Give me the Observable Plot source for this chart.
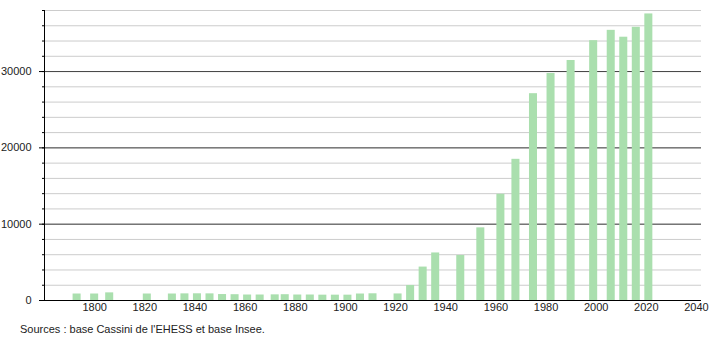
<!DOCTYPE html>
<html>
<head>
<meta charset="utf-8">
<script src="https://cdn.jsdelivr.net/npm/d3@7"></script>
<script src="https://cdn.jsdelivr.net/npm/@observablehq/plot@0.6"></script>
<style>
  body { margin: 0; background: #fff; font-family: "Liberation Sans", Arial, sans-serif; }
  #caption { font-size: 11px; line-height: 14px; margin: 2px 0 0 20px; color: #222; }
</style>
</head>
<body>
<div id="chart"></div>
<div id="caption">Sources : base Cassini de l'EHESS et base Insee.</div>
<script>
const years = [1793, 1800, 1806, 1821, 1831, 1836, 1841, 1846, 1851, 1856, 1861, 1866, 1872, 1876, 1881, 1886, 1891, 1896, 1901, 1906, 1911, 1921, 1926, 1931, 1936, 1946, 1954, 1962, 1968, 1975, 1982, 1990, 1999, 2006, 2011, 2016, 2021];
const population = [850, 850, 1000, 850, 850, 870, 880, 870, 780, 760, 720, 720, 740, 760, 720, 720, 700, 700, 700, 850, 880, 860, 1970, 4380, 6230, 5900, 9520, 13920, 18500, 27100, 29750, 31450, 34050, 35400, 34500, 35800, 37550];
const xTicks = [1800, 1820, 1840, 1860, 1880, 1900, 1920, 1940, 1960, 1980, 2000, 2020, 2040];
const yMajorTicks = [0, 10000, 20000, 30000];
const yMinorTicks = d3.range(0, 38001, 2000);

const data = years.map((y, i) => ({year: y, pop: population[i]}));
const halfWidth = 1.6;

const chart = Plot.plot({
  width: 710,
  height: 320,
  marginTop: 10,
  marginBottom: 20,
  marginLeft: 44,
  marginRight: 9,
  style: {fontFamily: "'Liberation Sans', Arial, sans-serif", fontSize: "11px", color: "#222", background: "#fff"},
  x: {domain: [1780, 2042]},
  y: {domain: [0, 38000]},
  marks: [
    Plot.ruleY(yMinorTicks.filter(v => v > 0), {stroke: "#cccccc", strokeWidth: 1}),
    Plot.ruleY(yMajorTicks.filter(v => v > 0), {stroke: "#444444", strokeWidth: 1}),
    Plot.rectY(data, {x1: d => d.year - halfWidth, x2: d => d.year + halfWidth, y: "pop", fill: "#aadfae"}),
    Plot.ruleY([0], {stroke: "#000", strokeWidth: 1}),
    Plot.ruleX([1780], {stroke: "#000", strokeWidth: 1}),
    Plot.axisY({ticks: yMinorTicks, tickSize: 2, tickFormat: null, text: null, label: null, stroke: "#000"}),
    Plot.axisY({ticks: yMajorTicks, tickSize: 5, tickPadding: 8, tickFormat: d => String(d), label: null, stroke: "#000"}),
    Plot.axisX({ticks: xTicks, tickSize: 0, tickPadding: 3, tickFormat: d => String(d), label: null})
  ]
});
document.getElementById("chart").append(chart);
</script>
</body>
</html>
